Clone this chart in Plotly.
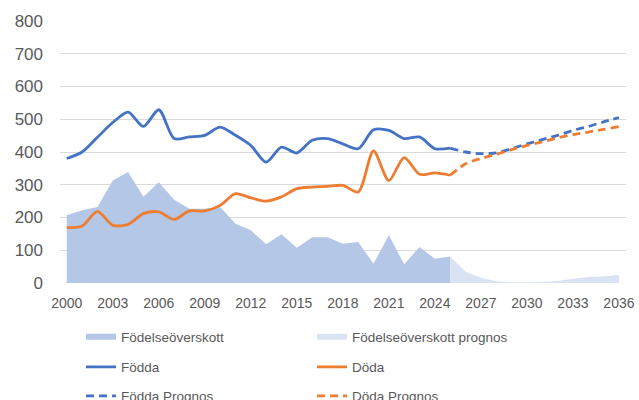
import plotly.graph_objects as go

years = list(range(2000, 2026))
fodda = [380, 400, 445, 490, 522, 478, 529, 441, 446, 451, 476, 451, 420, 369, 415, 397,
         436, 441, 425, 410, 468, 466, 441, 446, 410, 412]
doda = [169, 174, 219, 176, 179, 212, 217, 194, 220, 220, 237, 273, 260, 250, 263, 288,
        293, 295, 298, 278, 403, 313, 383, 332, 336, 329]
overskott = [207, 222, 232, 313, 339, 263, 308, 254, 227, 227, 232, 181, 161, 118, 149, 108,
             140, 140, 120, 125, 59, 146, 57, 110, 74, 81]

prog_years = list(range(2025, 2037))
fodda_prog = [412, 400, 395, 397, 410, 425, 438, 451, 466, 478, 492, 505]
doda_prog = [329, 364, 380, 393, 407, 420, 431, 443, 453, 461, 469, 478]
overskott_prog = [81, 34, 16, 5, 2, 2, 3, 6, 13, 18, 20, 25]

x_ticks = list(range(2000, 2037, 3))
y_ticks = list(range(0, 801, 100))

BLUE = "#4472C4"
ORANGE = "#ED7D31"
TXT = "#595959"
FONT = "Liberation Sans, Arial, sans-serif"

W, H = 639, 400

fig = go.Figure()
fig.add_trace(go.Scatter(x=years, y=overskott, mode="none", fill="tozeroy",
                         fillcolor="#B4C7E7", name="Födelseöverskott", legend="legend"))
fig.add_trace(go.Scatter(x=prog_years, y=overskott_prog, mode="none", fill="tozeroy",
                         fillcolor="#DAE3F3", name="Födelseöverskott prognos", legend="legend"))
fig.add_trace(go.Scatter(x=years, y=fodda, mode="lines", name="Födda", legend="legend2",
                         line=dict(color=BLUE, width=2.8, shape="spline", smoothing=0.8)))
fig.add_trace(go.Scatter(x=years, y=doda, mode="lines", name="Döda", legend="legend2",
                         line=dict(color=ORANGE, width=2.8, shape="spline", smoothing=0.8)))
fig.add_trace(go.Scatter(x=prog_years, y=fodda_prog, mode="lines", name="Födda Prognos", legend="legend3",
                         line=dict(color=BLUE, width=2.8, dash="8px,5px", shape="spline", smoothing=0.8)))
fig.add_trace(go.Scatter(x=prog_years, y=doda_prog, mode="lines", name="Döda Prognos", legend="legend3",
                         line=dict(color=ORANGE, width=2.8, dash="8px,5px", shape="spline", smoothing=0.8)))

leg_common = dict(orientation="h", xref="container", yref="container", x=81 / W,
                  xanchor="left", yanchor="middle", entrywidth=186, entrywidthmode="pixels",
                  font=dict(family=FONT, size=13.5, color=TXT), bgcolor="rgba(0,0,0,0)",
                  itemclick=False, itemdoubleclick=False)

fig.update_layout(
    width=W, height=H,
    margin=dict(l=60, r=13, t=21, b=117),
    paper_bgcolor="white", plot_bgcolor="white",
    font=dict(family=FONT, color=TXT),
    xaxis=dict(range=[1999.56, 2036.46], tickvals=x_ticks, showgrid=False, zeroline=False,
               showline=False, ticks="", tickfont=dict(size=14, color=TXT), ticklabelstandoff=10,
               automargin=False),
    yaxis=dict(range=[0, 800], tickvals=y_ticks, showgrid=True, gridcolor="#D9D9D9", gridwidth=1.3,
               zeroline=False, showline=False, ticks="", tickfont=dict(size=17, color=TXT),
               ticklabelstandoff=16, automargin=False),
    legend=dict(leg_common, y=1 - 337 / H),
    legend2=dict(leg_common, y=1 - 367 / H),
    legend3=dict(leg_common, y=1 - 396 / H),
)

fig.write_html("out.html", config={"displayModeBar": False},
               post_script="document.body.style.margin='0';document.body.style.overflow='hidden';")
